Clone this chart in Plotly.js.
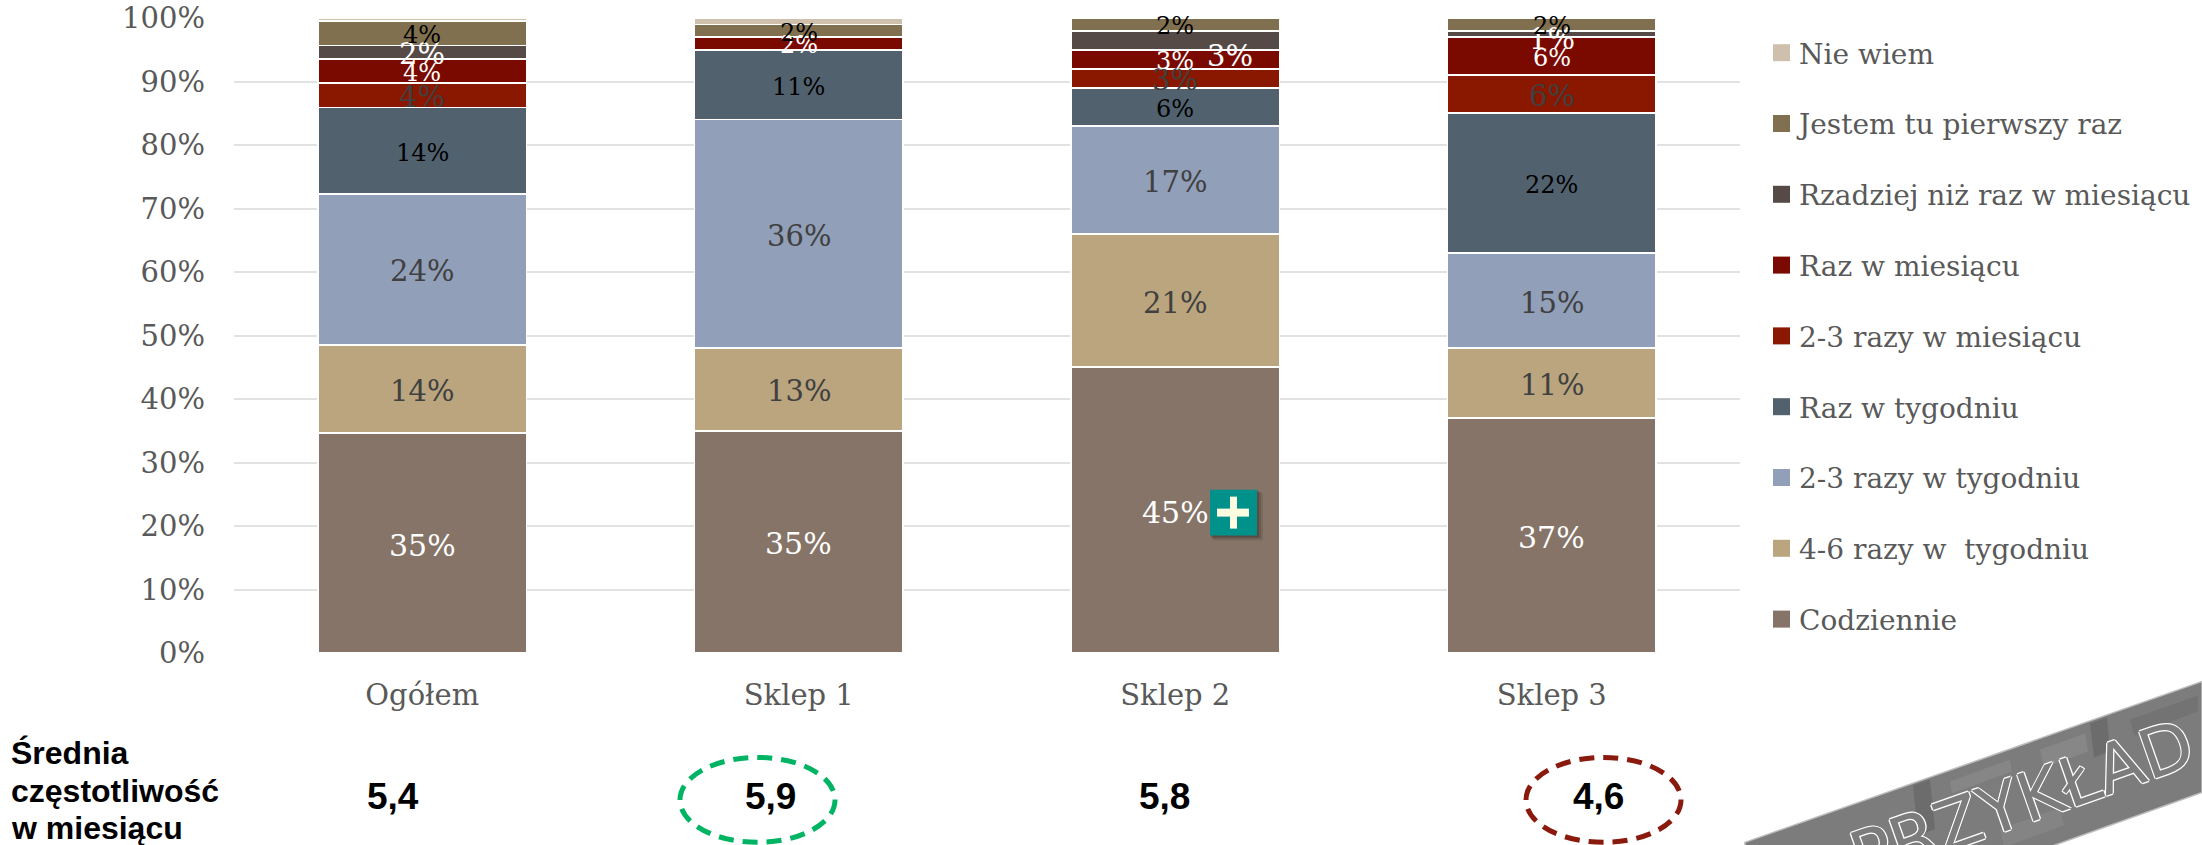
<!DOCTYPE html>
<html lang="pl">
<head>
<meta charset="utf-8">
<title>Częstotliwość wizyt</title>
<script src="https://cdn.plot.ly/plotly-3.0.1.min.js"></script>
<style>html,body{margin:0;padding:0;background:#fff;overflow:hidden}</style>
</head>
<body>
<div id="chart" style="width:2202px;height:845px"></div>
<script>
// Store columns
const categories = ['Ogółem', 'Sklep 1', 'Sklep 2', 'Sklep 3'];

// Share of respondents per answer, in percent, bottom of the stack first
const codziennie   = [34.6, 35, 45, 37];
const razy46Tydz   = [13.9, 13, 21, 11];
const razy23Tydz   = [23.8, 36, 17, 15];
const razTydzien   = [13.6, 11, 6, 22];
const razy23Mies   = [3.9, null, 3, 6];
const razMiesiac   = [3.7, 2, 3, 6];
const rzadziej     = [2.2, null, 3, 1];
const pierwszyRaz  = [3.8, 2, 2, 2];
const nieWiem      = [0.5, 1, null, null];

// Mean visits per month under each column
const srednia = ['5,4', '5,9', '5,8', '4,6'];
const sredniaTitle = ['Średnia', 'częstotliwość', 'w miesiącu'];

const seriesNames = ['Codziennie', '4-6 razy w  tygodniu', '2-3 razy w tygodniu', 'Raz w tygodniu',
  '2-3 razy w miesiącu', 'Raz w miesiącu', 'Rzadziej niż raz w miesiącu', 'Jestem tu pierwszy raz', 'Nie wiem'];
const seriesValues = [codziennie, razy46Tydz, razy23Tydz, razTydzien, razy23Mies, razMiesiac, rzadziej, pierwszyRaz, nieWiem];
const seriesColors = ['#857467', '#baa57e', '#919fb8', '#52616e', '#8a1700', '#7a0a00', '#554a45', '#807050', '#cfc0ae'];
const labelColors  = ['#ffffff', '#404040', '#404040', '#000000', '#404040', '#ffffff', '#ffffff', '#000000', null];
const labelSizes   = [30, 29, 29, 24, 29, 24, 29, 24, 0];

// Page area given to the plot: the axes stop at axisRight, the legend sits beyond them
const frame = {l: 234, r: 2200, t: 18, b: 653.5};
const axisRight = 1740;
const px = x => (x - frame.l) / (frame.r - frame.l);
const py = y => (frame.b - y) / (frame.b - frame.t);

const SERIF = '"DejaVu Serif", serif';
const SANS = '"Liberation Sans", Arial, sans-serif';

const traces = seriesNames.map((name, i) => ({
  type: 'bar',
  name,
  x: categories,
  y: seriesValues[i],
  legendgroup: name,
  legendrank: 100 - i,
  hoverinfo: 'skip',
  marker: {color: seriesColors[i], line: {color: '#ffffff', width: 1.6}}
}));

// Value labels centred on their segments; two crowded ones are nudged aside
const nudges = {'6:2': {xshift: 55, yshift: -16}, '6:3': {xshift: 0, yshift: -5}};
const annotations = [];
categories.forEach((cat, c) => {
  let base = 0;
  seriesValues.forEach((vals, s) => {
    const v = vals[c];
    if (v === null) return;
    if (labelColors[s]) {
      const n = nudges[s + ':' + c] || {xshift: 0, yshift: -2};
      annotations.push({
        x: cat, y: base + v / 2, xref: 'x', yref: 'y',
        text: Math.round(v) + '%', showarrow: false,
        xshift: n.xshift, yshift: n.yshift,
        font: {family: SERIF, size: labelSizes[s], color: labelColors[s]}
      });
    }
    base += v;
  });
});

// Row of monthly averages
const meanX = [393, 770, 1164, 1598];
srednia.forEach((t, i) => annotations.push({
  xref: 'paper', yref: 'paper', x: px(meanX[i]), y: py(797), xanchor: 'center', yanchor: 'middle', showarrow: false,
  text: '<b>' + t + '</b>', font: {family: SANS, size: 37, color: '#000'}
}));
const titleRows = [754, 792, 829];
sredniaTitle.forEach((t, i) => annotations.push({
  xref: 'paper', yref: 'paper', x: px(9), y: py(titleRows[i]), xanchor: 'left', yanchor: 'middle', showarrow: false,
  text: '<b>' + t + '</b>', font: {family: SANS, size: 32, color: '#000'}
}));

// Rubber stamp across the lower right corner
annotations.push({
  xref: 'paper', yref: 'paper', x: px(2022), y: py(801), xanchor: 'center', yanchor: 'middle', showarrow: false, textangle: -19.4,
  text: 'PRZYKŁAD',
  font: {family: '"DejaVu Sans", sans-serif', size: 68, color: '#7c7c7c',
         shadow: '1.3px 0 #fff, -1.3px 0 #fff, 0 1.3px #fff, 0 -1.3px #fff'}
});

const poly = (pts, color, line) => ({
  type: 'path', xref: 'paper', yref: 'paper', layer: 'above',
  path: 'M' + pts.map(p => px(p[0]) + ',' + py(p[1])).join('L') + 'Z',
  fillcolor: color, line: line || {width: 0}
});
const box = (x0, y0, x1, y1, color) => ({
  type: 'rect', xref: 'paper', yref: 'paper', layer: 'above',
  x0: px(x0), x1: px(x1), y0: py(y0), y1: py(y1), fillcolor: color, line: {width: 0}
});
const ring = (x0, y0, x1, y1, color) => ({
  type: 'circle', xref: 'paper', yref: 'paper', layer: 'above',
  x0: px(x0), x1: px(x1), y0: py(y0), y1: py(y1),
  line: {color, width: 5, dash: '15px,9px'}
});

const shapes = [
  ring(680, 758, 835, 843, '#00b464'),
  ring(1526, 758, 1681, 843, '#8b1a0e'),
  // plus badge on the Sklep 2 column
  box(1213, 493, 1263, 541, 'rgba(40,30,25,0.12)'),
  box(1212, 492, 1261, 539, 'rgba(40,30,25,0.18)'),
  box(1211, 491, 1259, 538, 'rgba(40,30,25,0.25)'),
  box(1210, 490, 1257, 536, '#00918a'),
  box(1217, 509, 1249, 517, '#fffde0'),
  box(1230, 497, 1237, 529, '#fffde0'),
  // stamp band with darker and lighter wear
  poly([[1745, 843], [2202, 682], [2202, 793], [1973, 875], [1745, 955]], '#7c7c7c', {color: '#bdbdbd', width: 1.5}),
  poly([[1913, 786], [1930, 780], [1935, 830], [1918, 836]], '#6c6c6c'),
  poly([[2090, 724], [2107, 718], [2110, 752], [2094, 758]], '#6c6c6c'),
  poly([[1950, 782], [2010, 760], [2012, 772], [1952, 794]], '#868686'),
  poly([[2040, 750], [2085, 734], [2088, 752], [2044, 768]], '#878787'),
  poly([[2000, 830], [2060, 808], [2064, 826], [2004, 848]], '#848484'),
  poly([[2130, 720], [2198, 696], [2198, 712], [2134, 736]], '#737373')
];

const layout = {
  width: 2202, height: 845,
  margin: {l: frame.l, r: 2202 - frame.r, t: frame.t, b: 845 - frame.b, pad: 0},
  paper_bgcolor: '#fff', plot_bgcolor: '#fff',
  barmode: 'stack', bargap: 0.447,
  showlegend: true,
  legend: {
    x: px(1759), y: py(28), xanchor: 'left', yanchor: 'top',
    traceorder: 'grouped', tracegroupgap: 31.4,
    font: {family: SERIF, size: 28, color: '#595959'},
    itemclick: false, itemdoubleclick: false, bgcolor: 'rgba(0,0,0,0)'
  },
  xaxis: {
    domain: [0, px(axisRight)],
    type: 'category', categoryorder: 'array', categoryarray: categories,
    showline: false, showgrid: false, zeroline: false, ticks: '',
    ticklabelstandoff: 22,
    tickfont: {family: SERIF, size: 29, color: '#595959'}
  },
  yaxis: {
    range: [0, 100], tick0: 0, dtick: 10, ticksuffix: '%',
    showline: false, zeroline: false, ticks: '',
    showgrid: true, gridcolor: '#e2e2e2', gridwidth: 2,
    ticklabelstandoff: 28,
    tickfont: {family: SERIF, size: 29, color: '#595959'}
  },
  annotations, shapes
};

Plotly.newPlot('chart', traces, layout, {displayModeBar: false, staticPlot: true}).then(gd => {
  // Legend keys are drawn as larger squares, closer to their text
  gd.querySelectorAll('.legend .legendpoints path').forEach(p => {
    p.setAttribute('d', 'M11,8.5H-6V-8.5H11Z');
    p.style.stroke = 'none';
  });
});
</script>
</body>
</html>
